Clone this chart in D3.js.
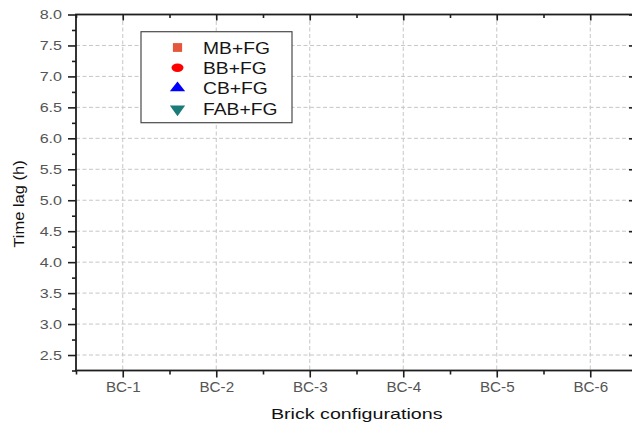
<!DOCTYPE html>
<html>
<head>
<meta charset="utf-8">
<script src="https://cdn.jsdelivr.net/npm/d3@7"></script>
<style>
  html, body { margin: 0; padding: 0; background: #fff; }
  svg { display: block; font-family: "Liberation Sans", Arial, sans-serif; }
</style>
</head>
<body>
<svg id="chart" width="632" height="427"></svg>
<script>
// Brick configurations on the x axis
const categories = ["BC-1", "BC-2", "BC-3", "BC-4", "BC-5", "BC-6"];

// Series (time lag in hours per configuration); no points plotted
const seriesNames = ["MB+FG", "BB+FG", "CB+FG", "FAB+FG"];
const mbFG = [];
const bbFG = [];
const cbFG = [];
const fabFG = [];
const seriesValues = [mbFG, bbFG, cbFG, fabFG];

// Y axis ticks
const yTickLabels = ["2.5", "3.0", "3.5", "4.0", "4.5", "5.0", "5.5", "6.0", "6.5", "7.0", "7.5", "8.0"];

const seriesColors = ["#e4573c", "#ff0000", "#0000ff", "#1b7b78"];
const seriesShapes = ["square", "ellipse", "triangle", "triangleDown"];

const svg = d3.select("#chart");
const plotLeft = 76, plotRight = 637, plotTop = 14.5, plotBottom = 370.5;

const x = d3.scaleLinear().domain([0.5, categories.length + 0.5]).range([plotLeft, plotRight]);
const y = d3.scaleLinear().domain([2.25, 8.0]).range([plotBottom, plotTop]);

const yMajor = yTickLabels.map(Number);
const yMinor = d3.range(2.25, 8.0, 0.5);
const xMajor = categories.map((c, i) => i + 1);
const xMinor = d3.range(0.5, categories.length + 1, 1);

// stretch text horizontally about its anchor
function stretch(sel, sx, dx, dy) {
  sel.attr("x", 0).attr("y", 0)
     .attr("transform", `translate(${dx},${dy}) scale(${sx},1)`);
}

// grid lines
const grid = svg.append("g").attr("stroke", "#c6c6c6").attr("stroke-width", 1)
  .attr("stroke-dasharray", "4,2.5").attr("fill", "none");
grid.selectAll("line.h").data(yMajor.filter(v => v < 8)).join("line")
  .attr("class", "h")
  .attr("x1", plotLeft).attr("x2", plotRight)
  .attr("y1", d => y(d)).attr("y2", d => y(d));
grid.selectAll("line.v").data(xMajor).join("line")
  .attr("class", "v")
  .attr("y1", plotTop).attr("y2", plotBottom)
  .attr("x1", d => x(d)).attr("x2", d => x(d));

const axisColor = "#1e1e1e";
function styleAxis(g) {
  g.select(".domain").remove();
  g.selectAll("line").attr("stroke", axisColor).attr("stroke-width", 1.6);
}

// left axis: major (labelled) + minor
const yAxisG = svg.append("g").attr("transform", `translate(${plotLeft},0)`)
  .call(d3.axisLeft(y).tickValues(yMajor).tickFormat((d, i) => yTickLabels[i]).tickSize(8).tickPadding(0));
styleAxis(yAxisG);
yAxisG.selectAll("text").attr("fill", "#555").attr("font-size", 12.2).attr("text-anchor", "end")
  .attr("dy", null)
  .each(function () { stretch(d3.select(this), 1.32, -14, 4.3); });
svg.append("g").attr("transform", `translate(${plotLeft},0)`)
  .call(d3.axisLeft(y).tickValues(yMinor).tickFormat("").tickSize(4))
  .call(styleAxis);

// right axis: inward ticks
svg.append("g").attr("transform", `translate(${plotRight},0)`)
  .call(d3.axisLeft(y).tickValues(yMajor).tickFormat("").tickSize(8))
  .call(styleAxis);
svg.append("g").attr("transform", `translate(${plotRight},0)`)
  .call(d3.axisLeft(y).tickValues(yMinor).tickFormat("").tickSize(4))
  .call(styleAxis);

// bottom axis
const xAxisG = svg.append("g").attr("transform", `translate(0,${plotBottom})`)
  .call(d3.axisBottom(x).tickValues(xMajor).tickFormat((d, i) => categories[i]).tickSize(7));
styleAxis(xAxisG);
xAxisG.selectAll("text").attr("fill", "#555").attr("font-size", 14.5).attr("dy", null)
  .each(function () { stretch(d3.select(this), 1.05, 0, 21.5); });
svg.append("g").attr("transform", `translate(0,${plotBottom})`)
  .call(d3.axisBottom(x).tickValues(xMinor).tickFormat("").tickSize(4))
  .call(styleAxis);

// top axis: inward ticks
svg.append("g").attr("transform", `translate(0,${plotTop})`)
  .call(d3.axisBottom(x).tickValues(xMajor).tickFormat("").tickSize(6))
  .call(styleAxis);
svg.append("g").attr("transform", `translate(0,${plotTop})`)
  .call(d3.axisBottom(x).tickValues(xMinor).tickFormat("").tickSize(3.5))
  .call(styleAxis);

// frame
svg.append("rect").attr("x", plotLeft).attr("y", plotTop)
  .attr("width", plotRight - plotLeft).attr("height", plotBottom - plotTop)
  .attr("fill", "none").attr("stroke", axisColor).attr("stroke-width", 1.8);

// marker shapes
function drawMarker(g, shape, color, cx, cy) {
  if (shape === "square") {
    g.append("rect").attr("x", cx - 4.6).attr("y", cy - 4.4).attr("width", 9.2).attr("height", 8.8).attr("fill", color);
  } else if (shape === "ellipse") {
    g.append("ellipse").attr("cx", cx).attr("cy", cy).attr("rx", 6).attr("ry", 4.2).attr("fill", color);
  } else if (shape === "triangle") {
    g.append("path").attr("d", d3.symbol(d3.symbolTriangle, 60)())
      .attr("transform", `translate(${cx},${cy}) scale(1.3,0.95)`).attr("fill", color);
  } else {
    g.append("path").attr("d", d3.symbol(d3.symbolTriangle, 60)())
      .attr("transform", `translate(${cx},${cy}) scale(1.3,-1.05)`).attr("fill", color);
  }
}

// data points
const points = svg.append("g");
seriesValues.forEach((vals, s) => {
  vals.forEach((v, i) => {
    if (v != null) drawMarker(points, seriesShapes[s], seriesColors[s], x(i + 1), y(v));
  });
});

// legend
const legend = svg.append("g");
legend.append("rect").attr("x", 141).attr("y", 31.7).attr("width", 151).attr("height", 91)
  .attr("fill", "#fff").attr("stroke", "#4a4a4a").attr("stroke-width", 1.2);
const rowY = [47.5, 67.8, 88, 109];
seriesNames.forEach((name, i) => {
  drawMarker(legend, seriesShapes[i], seriesColors[i], 177.5, rowY[i]);
  legend.append("text").text(name).attr("font-size", 16.2).attr("fill", "#151515")
    .call(t => stretch(t, 1.19, 203, rowY[i] + 6));
});

// axis titles
svg.append("text").text("Brick configurations").attr("font-size", 15.5).attr("fill", "#111")
  .attr("text-anchor", "middle")
  .attr("transform", "translate(356.7,419) scale(1.27,1)");
svg.append("text").text("Time lag (h)").attr("font-size", 15).attr("fill", "#111")
  .attr("text-anchor", "middle")
  .attr("transform", "translate(24,204) rotate(-90) scale(1.1,1)");
</script>
</body>
</html>
